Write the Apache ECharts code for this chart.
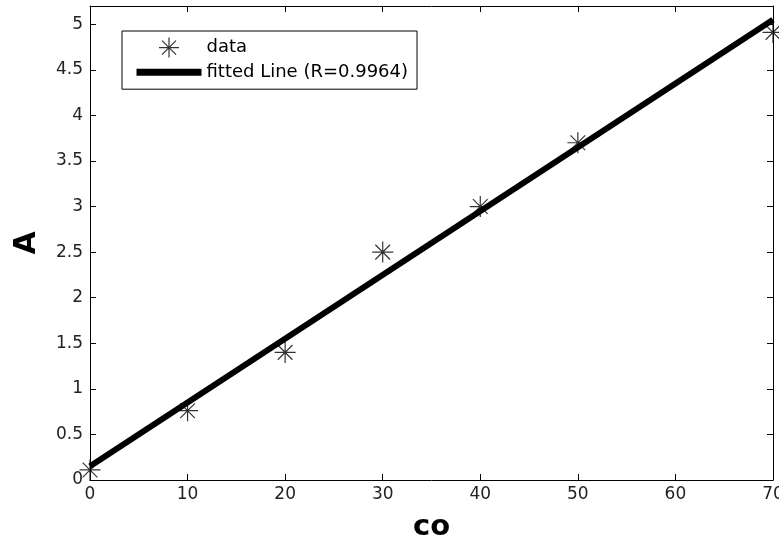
<!DOCTYPE html>
<html>
<head>
<meta charset="utf-8">
<script src="https://cdn.jsdelivr.net/npm/echarts@6/dist/echarts.min.js"></script>
<style>
  html,body{margin:0;padding:0;background:#fff;}
  #main{width:779px;height:542px;}
</style>
</head>
<body>
<div id="main"></div>
<script>
// measured points
var xData = [0, 10, 20, 30, 40, 50, 70];
var yData = [0.11, 0.76, 1.40, 2.50, 3.00, 3.70, 4.91];
// fitted line ends
var fitX = [0, 70];
var fitY = [0.15, 5.05];
var fitName = 'fitted Line (R=0.9964)';

var font = 'DejaVu Sans';
var star = 'path://M0,-1L0,1M-1,0L1,0M-0.7,-0.7L0.7,0.7M-0.7,0.7L0.7,-0.7';

var myChart = echarts.init(document.getElementById('main'));

// box frame: every axis line + inward ticks, not moved to zero
function frame(opt) {
    return Object.assign({
        axisLine: {show: true, onZero: false, lineStyle: {color: '#000', width: 1}},
        axisTick: {show: true, inside: true, length: 6, lineStyle: {color: '#000'}},
        splitLine: {show: false}
    }, opt);
}

var option = {
    backgroundColor: '#fff',
    animation: false,
    grid: {left: 90, top: 6, right: 6, bottom: 62, containLabel: false, outerBoundsMode: 'none'},
    legend: {
        left: 122, top: 31,
        orient: 'vertical',
        borderColor: '#000', borderWidth: 1, borderRadius: 0,
        padding: [6, 9, 8, 11],
        itemWidth: 65, itemHeight: 20, itemGap: 5,
        textStyle: {fontFamily: font, fontSize: 18, color: '#000'},
        data: [
            {name: 'data', itemStyle: {color: '#000', borderColor: '#000', borderWidth: 1.2}},
            {name: fitName, lineStyle: {color: '#000', width: 7}, itemStyle: {color: '#000', opacity: 0}}
        ]
    },
    xAxis: [
        frame({
            type: 'value', min: 0, max: 70, interval: 10,
            name: 'co', nameLocation: 'middle', nameGap: 33,
            nameTextStyle: {fontFamily: font, fontSize: 29, fontWeight: 'bold', color: '#000'},
            axisLabel: {fontFamily: font, fontSize: 17, color: '#222', margin: 6}
        }),
        frame({
            type: 'value', position: 'top', min: 0, max: 70, interval: 10,
            axisLabel: {show: false}
        })
    ],
    yAxis: [
        frame({
            type: 'value', min: 0, max: 5.2, interval: 0.5,
            name: 'A', nameLocation: 'middle', nameGap: 48,
            nameTextStyle: {fontFamily: font, fontSize: 30, fontWeight: 'bold', color: '#000'},
            axisLabel: {fontFamily: font, fontSize: 17, color: '#222', margin: 7, showMaxLabel: false}
        }),
        frame({
            type: 'value', position: 'right', min: 0, max: 5.2, interval: 0.5,
            axisLabel: {show: false}
        })
    ],
    series: [
        {
            name: 'data',
            type: 'scatter',
            symbol: star,
            symbolSize: 21,
            z: 5,
            itemStyle: {color: '#000', borderColor: '#000', borderWidth: 1.2},
            data: xData.map(function (x, i) { return [x, yData[i]]; })
        },
        {
            name: fitName,
            type: 'line',
            symbol: 'none',
            z: 3,
            lineStyle: {color: '#000', width: 6},
            itemStyle: {color: '#000'},
            data: fitX.map(function (x, i) { return [x, fitY[i]]; })
        }
    ]
};

myChart.setOption(option, true);
</script>
</body>
</html>
